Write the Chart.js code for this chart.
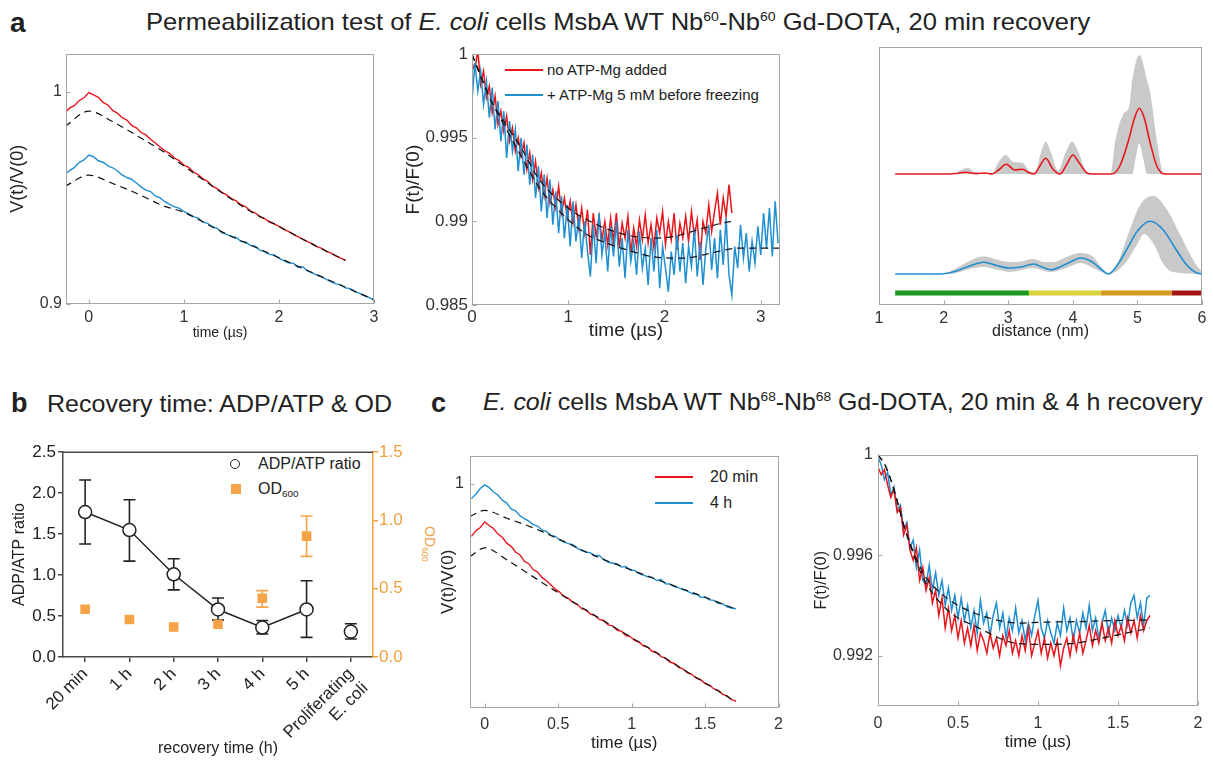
<!DOCTYPE html>
<html><head><meta charset="utf-8">
<script src="https://cdn.jsdelivr.net/npm/chart.js@4.4.1/dist/chart.umd.min.js"></script>
<style>
body{margin:0;background:#fff;}
#fig{position:relative;width:1213px;height:760px;overflow:hidden;font-family:"Liberation Sans",Arial,sans-serif;color:#222;}
.abs{position:absolute;white-space:nowrap;line-height:1;}
.sup{font-size:0.55em;vertical-align:0.7em;}
.sub{font-size:0.62em;vertical-align:-0.3em;}
canvas{position:absolute;}
.ln{position:absolute;height:0;}
</style></head>
<body><div id="fig">
<div class="abs" style="left:10px;top:9px;font-size:28px;font-weight:bold">a</div>
<div class="abs" style="left:146px;top:10px;font-size:24px;transform:scaleX(1.064);transform-origin:0 0">Permeabilization test of <i>E. coli</i> cells MsbA WT Nb<span class="sup">60</span>-Nb<span class="sup">60</span> Gd-DOTA, 20 min recovery</div>
<div class="abs" style="left:11px;top:390px;font-size:27px;font-weight:bold">b</div>
<div class="abs" style="left:47px;top:392px;font-size:24px;transform:scaleX(1.042);transform-origin:0 0">Recovery time: ADP/ATP &amp; OD</div>
<div class="abs" style="left:431px;top:390px;font-size:27px;font-weight:bold">c</div>
<div class="abs" style="left:483px;top:390px;font-size:24px;transform:scaleX(1.037);transform-origin:0 0"><i>E. coli</i> cells MsbA WT Nb<span class="sup">68</span>-Nb<span class="sup">68</span> Gd-DOTA, 20 min &amp; 4 h recovery</div>

<!-- legend a2 -->
<div class="ln" style="left:505px;top:69px;width:38px;border-top:2px solid #e8161c"></div>
<div class="abs" style="left:547px;top:62px;font-size:15px">no ATP-Mg added</div>
<div class="ln" style="left:505px;top:94px;width:38px;border-top:2px solid #1f8fd0"></div>
<div class="abs" style="left:547px;top:87px;font-size:15px">+ ATP-Mg 5 mM before freezing</div>

<!-- legend b -->
<div style="position:absolute;left:230px;top:459px;width:8px;height:8px;border:1.5px solid #222;border-radius:50%;background:#fff"></div>
<div class="abs" style="left:258px;top:456px;font-size:16px">ADP/ATP ratio</div>
<div style="position:absolute;left:231px;top:484px;width:10px;height:10px;background:#f5a347"></div>
<div class="abs" style="left:258px;top:481px;font-size:16px">OD<span class="sub">600</span></div>
<div class="abs" style="left:437px;top:526px;font-size:14px;color:#f0a040;transform:rotate(90deg);transform-origin:0 0">OD<span class="sub">600</span></div>

<!-- legend c1 -->
<div class="ln" style="left:655px;top:476px;width:38px;border-top:2px solid #e8161c"></div>
<div class="abs" style="left:710px;top:469px;font-size:16px">20 min</div>
<div class="ln" style="left:655px;top:502px;width:38px;border-top:2px solid #1f8fd0"></div>
<div class="abs" style="left:710px;top:495px;font-size:16px">4 h</div>
</div>
<script>
// ---------------- DATA ----------------
// panel a (left): V(t)/V(0), sampled from -0.25 us every 0.05 us
const a1Start = -0.25, a1Step = 0.05;
const a1Red = [0.9902,0.9924,0.9936,0.9959,0.9972,0.9996,0.9986,0.9974,0.9950,0.9938,
0.9912,0.9900,0.9878,0.9867,0.9842,0.9830,0.9808,0.9797,0.9776,0.9759,
0.9740,0.9722,0.9710,0.9688,0.9676,0.9655,0.9644,0.9622,0.9610,0.9590,
0.9578,0.9555,0.9544,0.9526,0.9514,0.9497,0.9486,0.9468,0.9458,0.9438,
0.9430,0.9412,0.9402,0.9386,0.9378,0.9366,0.9352,0.9342,0.9328,0.9318,
0.9306,0.9294,0.9284,0.9270,0.9262,0.9248,0.9240,0.9226,0.9216,0.9206];
const a1Blue = [0.9610,0.9630,0.9644,0.9668,0.9679,0.9702,0.9694,0.9675,0.9668,0.9651,
0.9642,0.9628,0.9608,0.9596,0.9588,0.9570,0.9552,0.9537,0.9530,0.9509,
0.9500,0.9482,0.9470,0.9458,0.9452,0.9436,0.9425,0.9412,0.9405,0.9386,
0.9380,0.9364,0.9356,0.9336,0.9328,0.9318,0.9314,0.9295,0.9292,0.9276,
0.9272,0.9254,0.9246,0.9234,0.9231,0.9216,0.9204,0.9194,0.9192,0.9172,
0.9176,0.9156,0.9147,0.9136,0.9128,0.9116,0.9104,0.9095,0.9090,0.9076,
0.9072,0.9058,0.9050,0.9040,0.9030,0.9018];
const a1RedFitT = [-0.25,0,0.25,0.5,0.75,1.0,1.33,1.7,2.0,2.35,2.7];
const a1RedFitV = [0.9837,0.9909,0.9860,0.9795,0.9728,0.9650,0.9546,0.9437,0.9366,0.9282,0.9206];
const a1BlueFitT = [-0.25,0,0.25,0.5,0.77,1.0,1.4,2.0,2.5,3.0];
const a1BlueFitV = [0.9555,0.9607,0.9568,0.9522,0.9465,0.9432,0.9340,0.9218,0.9118,0.9020];
const a1XTicks = [0,1,2,3], a1YTicks = [0.9,1];

// panel a (middle): F(t)/F(0), sampled from 0 every 0.03 us
const a2Start = 0, a2Step = 0.03;
const a2Red = [0.9995,0.9990,1.0003,0.9982,0.9990,0.9974,0.9981,0.9965,0.9975,0.9958,
0.9966,0.9954,0.9963,0.9948,0.9956,0.9942,0.9950,0.9939,0.9947,0.9931,
0.9941,0.9925,0.9936,0.9920,0.9929,0.9915,0.9926,0.9911,0.9919,0.9908,
0.9921,0.9905,0.9914,0.9902,0.9912,0.9899,0.9910,0.9896,0.9908,0.9893,
0.9907,0.9880,0.9905,0.9891,0.9903,0.9889,0.9900,0.9886,0.9902,0.9888,
0.9905,0.9884,0.9899,0.9890,0.9903,0.9881,0.9896,0.9885,0.9901,0.9889,
0.9904,0.9887,0.9898,0.9884,0.9902,0.9893,0.9906,0.9886,0.9900,0.9889,
0.9905,0.9883,0.9899,0.9890,0.9903,0.9888,0.9906,0.9891,0.9901,0.9877,
0.9900,0.9893,0.9910,0.9894,0.9906,0.9917,0.9898,0.9914,0.9903,0.9922,
0.9905];
const a2Blue = [0.9972,0.9995,0.9978,0.9990,0.9970,0.9984,0.9962,0.9980,0.9955,0.9972,
0.9948,0.9966,0.9938,0.9960,0.9942,0.9955,0.9930,0.9950,0.9928,0.9946,
0.9922,0.9940,0.9914,0.9933,0.9906,0.9928,0.9902,0.9925,0.9898,0.9918,
0.9893,0.9915,0.9890,0.9910,0.9885,0.9912,0.9888,0.9903,0.9878,0.9900,
0.9882,0.9867,0.9898,0.9875,0.9905,0.9880,0.9893,0.9870,0.9897,0.9879,
0.9900,0.9873,0.9890,0.9866,0.9895,0.9876,0.9888,0.9868,0.9894,0.9872,
0.9884,0.9862,0.9890,0.9870,0.9895,0.9860,0.9885,0.9872,0.9858,0.9882,
0.9868,0.9892,0.9870,0.9887,0.9863,0.9885,0.9873,0.9896,0.9867,0.9888,
0.9862,0.9884,0.9898,0.9871,0.9890,0.9866,0.9895,0.9874,0.9902,0.9868,
0.9856,0.9885,0.9872,0.9898,0.9878,0.9893,0.9870,0.9888,0.9875,0.9897,
0.9880,0.9905,0.9884,0.9908,0.9879,0.9912,0.9887];
const a2RedFitT = [0,0.1,0.2,0.33,0.5,0.7,1.0,1.3,1.6,1.9,2.1,2.35,2.6,2.7];
const a2RedFitV = [1.0,0.9986,0.9972,0.9960,0.9945,0.9925,0.9908,0.9898,0.9892,0.9890,0.9891,0.9895,0.9899,0.9900];
const a2BlueFitT = [0,0.1,0.2,0.33,0.5,0.7,1.0,1.2,1.4,1.61,1.87,2.2,2.48,2.77,3.09,3.2];
const a2BlueFitV = [1.0,0.9985,0.9972,0.9958,0.9940,0.9920,0.9901,0.9892,0.9887,0.9883,0.9879,0.9878,0.9881,0.9884,0.9884,0.9884];
const a2XTicks = [0,1,2,3], a2YTicks = [0.985,0.99,0.995,1];

// panel a (right): distance distributions (arbitrary units)
const a3RedOffset = 1.0, a3BlueOffset = 0, a3BarLevel = -0.19;
const a3RedX = [1.25,2.1,2.22,2.35,2.5,2.65,2.75,2.85,2.97,3.1,3.22,3.33,3.4,3.48,3.58,3.69,3.8,3.9,4.0,4.1,4.22,4.3,4.6,4.72,4.86,4.95,5.03,5.11,5.19,5.3,5.42,6.0];
const a3RedY = [0,0,0.008,0.017,0.004,0.01,0,0.04,0.097,0.04,0.047,0.01,0,0.07,0.157,0.05,0,0.09,0.19,0.11,0.01,0,0,0.07,0.33,0.55,0.657,0.55,0.33,0.08,0,0];
const a3RedUpX = [1.25,2.15,2.27,2.37,2.48,2.6,2.75,2.85,2.96,3.08,3.22,3.33,3.42,3.5,3.58,3.67,3.77,3.88,3.99,4.1,4.2,4.3,4.58,4.66,4.79,4.87,4.92,5.03,5.15,5.2,5.3,5.41,6.0];
const a3RedUpY = [0,0,0.04,0.063,0.02,0.01,0.01,0.12,0.19,0.12,0.113,0.03,0.02,0.2,0.323,0.2,0.03,0.2,0.323,0.2,0.03,0,0,0.34,0.607,0.673,0.94,1.19,0.94,0.807,0.34,0,0];
const a3RedLoX = [1.25,4.92,4.97,5.03,5.09,5.15,6.0];
const a3RedLoY = [0,0,0.15,0.307,0.15,0,0];
const a3BlueX = [1.25,1.95,2.2,2.4,2.62,2.82,3.02,3.2,3.4,3.52,3.66,3.9,4.12,4.3,4.45,4.55,4.7,4.85,5.0,5.2,5.4,5.58,5.75,5.9,6.0];
const a3BlueY = [0,0,0.03,0.08,0.117,0.085,0.06,0.07,0.10,0.07,0.043,0.1,0.16,0.12,0.04,0,0.1,0.263,0.43,0.527,0.44,0.263,0.1,0.015,0];
const a3BlueUpX = [1.25,2.0,2.2,2.4,2.62,2.85,3.02,3.2,3.38,3.55,3.7,3.9,4.1,4.3,4.45,4.55,4.7,4.88,5.05,5.25,5.45,5.68,5.89,6.0];
const a3BlueUpY = [0,0,0.06,0.13,0.177,0.14,0.12,0.125,0.15,0.12,0.12,0.17,0.21,0.18,0.06,0.0,0.12,0.44,0.7,0.78,0.65,0.37,0.11,0.02];
const a3BlueLoX = [1.25,2.1,2.4,2.62,2.85,3.02,3.38,3.66,3.9,4.12,4.35,4.55,4.8,5.0,5.1,5.25,5.4,5.55,6.0];
const a3BlueLoY = [0,0,0.05,0.07,0.04,0.02,0.06,0.02,0.06,0.11,0.05,0,0.1,0.3,0.4,0.3,0.1,0.02,0];
const a3BarEdges = [1.25,3.32,4.43,5.53,6.0];
const a3BarColors = ['#1f9a1f','#d6d43a','#d49a1f','#a31515'];
const a3XTicks = [1,2,3,4,5,6];

// panel b
const bCats = ['20 min','1 h','2 h','3 h','4 h','5 h',['Proliferating','E. coli']];
const bRatio = [1.77,1.55,1.01,0.58,0.36,0.58,0.31];
const bRatioLo = [1.38,1.17,0.82,0.45,0.28,0.24,0.22];
const bRatioHi = [2.16,1.92,1.20,0.72,0.445,0.93,0.405];
const bOD = [0.35,0.275,0.22,0.24,0.43,0.885,null];
const bODLo = [null,null,null,null,0.365,0.737,null];
const bODHi = [null,null,null,null,0.486,1.033,null];
const bYTicks = [0,0.5,1,1.5,2,2.5], bY1Ticks = [0,0.5,1,1.5];

// panel c (left): V(t)/V(0), sampled from -0.09 us every 0.03 us
const c1Start = -0.09, c1Step = 0.03;
const c1Blue = [0.9941,0.9958,0.9982,0.9996,0.9985,0.9967,0.9955,0.9934,0.9922,0.9898,
0.9890,0.9870,0.9858,0.9848,0.9834,0.9828,0.9811,0.9806,0.9790,0.9786,
0.9771,0.9762,0.9756,0.9752,0.9738,0.9728,0.9722,0.9718,0.9707,0.9708,
0.9690,0.9681,0.9676,0.9674,0.9660,0.9663,0.9648,0.9646,0.9633,0.9628,
0.9620,0.9618,0.9605,0.9609,0.9592,0.9591,0.9580,0.9576,0.9567,0.9562,
0.9552,0.9549,0.9538,0.9537,0.9526,0.9524,0.9512,0.9510,0.9498,0.9493,
0.9490];
const c1Red = [0.9786,0.9809,0.9822,0.9845,0.9830,0.9818,0.9795,0.9782,0.9758,0.9745,
0.9722,0.9710,0.9684,0.9674,0.9650,0.9640,0.9618,0.9604,0.9588,0.9570,
0.9558,0.9540,0.9532,0.9516,0.9508,0.9490,0.9484,0.9468,0.9462,0.9446,
0.9442,0.9424,0.9420,0.9402,0.9398,0.9380,0.9376,0.9360,0.9354,0.9338,
0.9332,0.9316,0.9310,0.9294,0.9288,0.9272,0.9266,0.9250,0.9244,0.9228,
0.9222,0.9206,0.9200,0.9184,0.9178,0.9162,0.9156,0.9140,0.9134,0.9118,
0.9112];
const c1RedFitT = [-0.1,0,0.15,0.29,0.45,0.6,0.75,1.0,1.25,1.5,1.71];
const c1RedFitV = [0.9703,0.9739,0.9690,0.9636,0.9574,0.9518,0.9462,0.9372,0.9280,0.9186,0.9110];
const c1BlueFitT = [-0.1,0,0.15,0.29,0.4,0.5,0.75,1.0,1.25,1.5,1.71];
const c1BlueFitV = [0.9867,0.9892,0.9860,0.9830,0.9803,0.9776,0.9706,0.9648,0.9592,0.9537,0.9488];
const c1XTicks = [0,0.5,1,1.5,2], c1YTicks = [1];

// panel c (right): F(t)/F(0), sampled from 0 every 0.02 us
const c2Start = 0, c2Step = 0.02;
const c2Blue = [0.9999,0.9996,0.9990,0.9993,0.9984,0.9987,0.9978,0.9980,0.9970,0.9973,
0.9963,0.9966,0.9955,0.9962,0.9950,0.9948,0.9956,0.9946,0.9953,0.9944,
0.9950,0.9940,0.9947,0.9938,0.9944,0.9935,0.9943,0.9934,0.9940,0.9931,
0.9938,0.9929,0.9942,0.9933,0.9937,0.9928,0.9936,0.9941,0.9931,0.9937,
0.9927,0.9935,0.9930,0.9939,0.9929,0.9934,0.9926,0.9933,0.9928,0.9936,
0.9942,0.9931,0.9927,0.9934,0.9929,0.9925,0.9933,0.9928,0.9939,0.9930,
0.9935,0.9926,0.9934,0.9929,0.9937,0.9931,0.9940,0.9930,0.9935,0.9927,
0.9933,0.9938,0.9929,0.9935,0.9930,0.9936,0.9931,0.9938,0.9932,0.9941,
0.9944,0.9935,0.9941,0.9932,0.9943,0.9944];
const c2Red = [0.9995,0.9992,0.9994,0.9988,0.9983,0.9986,0.9977,0.9979,0.9968,0.9972,
0.9962,0.9958,0.9963,0.9950,0.9955,0.9946,0.9951,0.9941,0.9946,0.9936,
0.9943,0.9931,0.9939,0.9930,0.9936,0.9927,0.9934,0.9925,0.9931,0.9924,
0.9932,0.9922,0.9929,0.9926,0.9921,0.9929,0.9923,0.9927,0.9920,0.9928,
0.9924,0.9930,0.9921,0.9926,0.9920,0.9928,0.9922,0.9931,0.9920,0.9925,
0.9930,0.9921,0.9927,0.9919,0.9925,0.9920,0.9926,0.9916,0.9923,0.9927,
0.9920,0.9928,0.9922,0.9929,0.9921,0.9926,0.9932,0.9924,0.9930,0.9925,
0.9933,0.9926,0.9931,0.9925,0.9934,0.9928,0.9932,0.9926,0.9935,0.9929,
0.9934,0.9927,0.9936,0.9930,0.9934,0.9936];
const c2RedFitT = [0,0.05,0.1,0.17,0.23,0.29,0.39,0.5,0.6,0.84,1.0,1.2,1.4,1.55,1.7];
const c2RedFitV = [1.0,0.9995,0.9986,0.9970,0.9959,0.9950,0.9941,0.9935,0.9932,0.99252,0.99245,0.99248,0.9927,0.9929,0.9931];
const c2BlueFitT = [0,0.05,0.1,0.17,0.23,0.29,0.39,0.5,0.7,0.88,1.0,1.2,1.5,1.7];
const c2BlueFitV = [1.0,0.9995,0.9986,0.9970,0.9960,0.9952,0.9945,0.9940,0.99349,0.9933,0.99333,0.99335,0.9934,0.99342];
const c2XTicks = [0,0.5,1,1.5,2], c2YTicks = [0.992,0.996,1];

// ---------------- DRAWING ----------------
const FF = '"Liberation Sans", Arial, sans-serif';
const RED = '#e8161c', BLUE = '#1f8fd0', ORANGE = '#f0a040', GREYBOX = '#a4a4a4';
Chart.defaults.font.family = FF;
const fig = document.getElementById('fig');

const sampled = (start, step, vals) => vals.map((v, i) => ({x: +(start + step * i).toFixed(4), y: v}));
const pairs = (xs, ys, off = 0) => xs.map((x, i) => ({x, y: ys[i] + off}));

function trace(data, color, w = 1.4) {
  return {data, borderColor: color, borderWidth: w, pointRadius: 0, fill: false, tension: 0};
}
function fit(data) {
  return {data, borderColor: '#111', borderWidth: 1.2, borderDash: [7, 5], pointRadius: 0, fill: false, cubicInterpolationMode: 'monotone'};
}
function mScale(min, max, ticks, size, pad, title, tSize, tPad, showTicks = true) {
  return {
    type: 'linear', min, max,
    grid: {display: false, drawTicks: false}, border: {display: false},
    afterBuildTicks: s => { s.ticks = ticks.map(v => ({value: v})); },
    ticks: {display: showTicks, font: {size, family: FF}, color: '#333', padding: pad,
            callback: v => String(v), maxRotation: 0, autoSkip: false},
    title: title ? {display: true, text: title, font: {size: tSize, family: FF}, color: '#222', padding: tPad} : {display: false}
  };
}
const boxPlugin = {
  id: 'boxp',
  afterDatasetsDraw(chart, args, opts) {
    if (!opts || !opts.color) return;
    const a = chart.chartArea, ctx = chart.ctx;
    ctx.save();
    ctx.strokeStyle = opts.color; ctx.lineWidth = 1;
    const l = Math.round(a.left) + 0.5, t = Math.round(a.top) + 0.5, r = Math.round(a.right) - 0.5, b = Math.round(a.bottom) - 0.5;
    ctx.strokeRect(l, t, r - l, b - t);
    ctx.beginPath();
    const xs = chart.scales.x, ys = chart.scales.y;
    xs.ticks.forEach(tk => { const px = Math.round(xs.getPixelForValue(tk.value)) + 0.5; ctx.moveTo(px, b); ctx.lineTo(px, b - 4); });
    if (opts.yTicks !== false) ys.ticks.forEach(tk => { const py = Math.round(ys.getPixelForValue(tk.value)) + 0.5; ctx.moveTo(l, py); ctx.lineTo(l + 4, py); });
    ctx.stroke();
    ctx.restore();
  }
};
const errPlugin = {
  id: 'errp',
  beforeDatasetsDraw(chart) {
    const ctx = chart.ctx;
    chart.data.datasets.forEach((ds, di) => {
      if (!ds.errLo) return;
      const meta = chart.getDatasetMeta(di);
      const ys = chart.scales[ds.yAxisID];
      ctx.save(); ctx.strokeStyle = ds.errColor; ctx.lineWidth = 1.6;
      meta.data.forEach((pt, i) => {
        if (ds.errLo[i] == null) return;
        const x = pt.x, y1 = ys.getPixelForValue(ds.errLo[i]), y2 = ys.getPixelForValue(ds.errHi[i]);
        ctx.beginPath();
        ctx.moveTo(x, y1); ctx.lineTo(x, y2);
        ctx.moveTo(x - 6, y1); ctx.lineTo(x + 6, y1);
        ctx.moveTo(x - 6, y2); ctx.lineTo(x + 6, y2);
        ctx.stroke();
      });
      ctx.restore();
    });
  },
  afterDatasetsDraw(chart, args, opts) {
    if (!opts || !opts.top) return;
    const a = chart.chartArea, ctx = chart.ctx;
    ctx.save(); ctx.strokeStyle = opts.top; ctx.lineWidth = 1.5;
    ctx.beginPath(); ctx.moveTo(a.left, a.top); ctx.lineTo(a.right, a.top); ctx.stroke();
    ctx.restore();
  }
};

function mk(box, area, cfg, rightAxis) {
  const [cx, cy, cw, ch] = box, [L, T, R, B] = area;
  const c = document.createElement('canvas');
  c.width = cw; c.height = ch;
  c.style.left = cx + 'px'; c.style.top = cy + 'px'; c.style.width = cw + 'px'; c.style.height = ch + 'px';
  fig.appendChild(c);
  const o = cfg.options;
  o.responsive = false; o.animation = false; o.devicePixelRatio = 1; o.maintainAspectRatio = false;
  o.layout = {padding: {left: 0, top: T - cy, right: rightAxis ? 0 : (cx + cw - R), bottom: 0}};
  o.scales.x.afterFit = s => { s.height = cy + ch - B; };
  o.scales.y.afterFit = s => { s.width = L - cx; };
  if (rightAxis) o.scales.y1.afterFit = s => { s.width = cx + cw - R; };
  o.plugins = Object.assign({legend: {display: false}, tooltip: {enabled: false}}, o.plugins || {});
  return new Chart(c, cfg);
}

// ---- a1 ----
mk([2, 40, 382, 305], [66, 48, 374, 304], {
  type: 'line',
  data: {datasets: [
    fit(pairs(a1RedFitT, a1RedFitV)),
    fit(pairs(a1BlueFitT, a1BlueFitV)),
    trace(sampled(a1Start, a1Step, a1Red), RED),
    trace(sampled(a1Start, a1Step, a1Blue), BLUE)
  ]},
  options: {
    scales: {
      x: mScale(-0.24, 3, a1XTicks, 16, 4, 'time (\u00b5s)', 14, {top: 0, bottom: 3.6}),
      y: mScale(0.9, 1.018, a1YTicks, 16, 4, 'V(t)/V(0)', 18, {top: 5.2, bottom: 0})
    },
    plugins: {boxp: {color: GREYBOX}}
  },
  plugins: [boxPlugin]
});

// ---- a2 ----
mk([398, 40, 392, 305], [472, 48, 780, 305], {
  type: 'line',
  data: {datasets: [
    fit(pairs(a2RedFitT, a2RedFitV)),
    fit(pairs(a2BlueFitT, a2BlueFitV)),
    trace(sampled(a2Start, a2Step, a2Blue), BLUE, 1.5),
    trace(sampled(a2Start, a2Step, a2Red), RED, 1.5)
  ]},
  options: {
    scales: {
      x: mScale(0, 3.2, a2XTicks, 17, 2, 'time (\u00b5s)', 19, {top: 0, bottom: 2.6}),
      y: mScale(0.985, 1.0, a2YTicks, 17, 4, 'F(t)/F(0)', 19, {top: 4, bottom: 0})
    },
    plugins: {boxp: {color: GREYBOX}}
  },
  plugins: [boxPlugin]
});

// ---- a3 ----
const band = (data, target) => ({data, borderWidth: 0, borderColor: 'rgba(0,0,0,0)', backgroundColor: '#c9c9c9',
  pointRadius: 0, fill: target === null ? false : target, cubicInterpolationMode: 'monotone'});
const curve = (data, color) => ({data, borderColor: color, borderWidth: 1.6, pointRadius: 0, fill: false, cubicInterpolationMode: 'monotone'});
const barSets = a3BarColors.map((col, i) => ({
  data: [{x: a3BarEdges[i], y: a3BarLevel}, {x: a3BarEdges[i + 1], y: a3BarLevel}],
  borderColor: col, borderWidth: 5, borderCapStyle: 'butt', pointRadius: 0, fill: false
}));
mk([860, 40, 350, 305], [879, 47, 1204, 305], {
  type: 'line',
  data: {datasets: [
    curve(pairs(a3RedX, a3RedY, a3RedOffset), RED),
    curve(pairs(a3BlueX, a3BlueY, a3BlueOffset), BLUE),
    band(pairs(a3RedUpX, a3RedUpY, a3RedOffset), 3),
    band(pairs(a3RedLoX, a3RedLoY, a3RedOffset), null),
    band(pairs(a3BlueUpX, a3BlueUpY, a3BlueOffset), 5),
    band(pairs(a3BlueLoX, a3BlueLoY, a3BlueOffset), null),
    ...barSets
  ]},
  options: {
    scales: {
      x: mScale(1, 6, a3XTicks, 16, 3.5, 'distance (nm)', 16, {top: 0, bottom: 3.7}),
      y: mScale(-0.31, 2.27, [], 16, 0, null, 0, 0, false)
    },
    plugins: {boxp: {color: GREYBOX, yTicks: false}}
  },
  plugins: [boxPlugin]
});

// ---- b ----
const axisGrey = '#4a4a4a';
mk([5, 440, 410, 320], [63, 451, 373, 657], {
  type: 'line',
  data: {labels: bCats, datasets: [
    {data: bRatio, yAxisID: 'y', borderColor: '#222', borderWidth: 1.5, pointRadius: 6.5, pointStyle: 'circle',
     pointBackgroundColor: '#fff', pointBorderColor: '#222', pointBorderWidth: 1.5, tension: 0,
     segment: {borderColor: ctx => ctx.p1DataIndex === 6 ? 'rgba(0,0,0,0)' : '#222'},
     errLo: bRatioLo, errHi: bRatioHi, errColor: '#222'},
    {data: bOD, yAxisID: 'y1', showLine: false, pointStyle: 'rect', pointRadius: 6.8, borderColor: '#f5a347',
     pointBackgroundColor: '#f5a347', pointBorderWidth: 0,
     errLo: bODLo, errHi: bODHi, errColor: '#f5a347'}
  ]},
  options: {
    scales: {
      x: {type: 'category', offset: true,
          grid: {display: true, drawOnChartArea: false, drawTicks: true, tickLength: 5, color: axisGrey, lineWidth: 1.5},
          border: {display: true, color: axisGrey, width: 1.5},
          ticks: {font: {size: 17, family: FF}, color: '#222', minRotation: 45, maxRotation: 45, padding: 2, autoSkip: false},
          title: {display: true, text: 'recovery time (h)', font: {size: 16, family: FF}, color: '#222', padding: {top: 0, bottom: 1.4}}},
      y: {type: 'linear', position: 'left', min: 0, max: 2.5,
          afterBuildTicks: s => { s.ticks = bYTicks.map(v => ({value: v})); },
          grid: {display: true, drawOnChartArea: false, drawTicks: true, tickLength: 5, color: axisGrey, lineWidth: 1.5},
          border: {display: true, color: axisGrey, width: 1.5},
          ticks: {font: {size: 17, family: FF}, color: '#222', padding: 2, callback: v => v.toFixed(1)},
          title: {display: true, text: 'ADP/ATP ratio', font: {size: 16, family: FF}, color: '#222', padding: {top: 5.4, bottom: 0}}},
      y1: {type: 'linear', position: 'right', min: 0, max: 1.5,
          afterBuildTicks: s => { s.ticks = bY1Ticks.map(v => ({value: v})); },
          grid: {display: true, drawOnChartArea: false, drawTicks: true, tickLength: 5, color: ORANGE, lineWidth: 1.5},
          border: {display: true, color: ORANGE, width: 1.5},
          ticks: {font: {size: 17, family: FF}, color: ORANGE, padding: 1, callback: v => v.toFixed(1)},
          title: {display: false}}
    },
    plugins: {errp: {top: axisGrey}}
  },
  plugins: [errPlugin]
}, true);

// ---- c1 ----
mk([425, 440, 365, 320], [470, 450, 779, 708], {
  type: 'line',
  data: {datasets: [
    fit(pairs(c1RedFitT, c1RedFitV)),
    fit(pairs(c1BlueFitT, c1BlueFitV)),
    trace(sampled(c1Start, c1Step, c1Red), RED),
    trace(sampled(c1Start, c1Step, c1Blue), BLUE)
  ]},
  options: {
    scales: {
      x: mScale(-0.1, 2.0, c1XTicks, 16, 7, 'time (\u00b5s)', 17, {top: 0, bottom: 6.8}),
      y: mScale(0.9084, 1.0116, c1YTicks, 16, 6, 'V(t)/V(0)', 17, {top: 12.8, bottom: 0})
    },
    plugins: {boxp: {color: GREYBOX}}
  },
  plugins: [boxPlugin]
});

// ---- c2 ----
mk([810, 440, 400, 320], [878, 450, 1203, 706], {
  type: 'line',
  data: {datasets: [
    fit(pairs(c2RedFitT, c2RedFitV)),
    fit(pairs(c2BlueFitT, c2BlueFitV)),
    trace(sampled(c2Start, c2Step, c2Red), RED, 1.5),
    trace(sampled(c2Start, c2Step, c2Blue), BLUE, 1.5)
  ]},
  options: {
    scales: {
      x: mScale(0, 2, c2XTicks, 16, 7.5, 'time (\u00b5s)', 17, {top: 0, bottom: 7.8}),
      y: mScale(0.990, 1.0, c2YTicks, 16, 5, 'F(t)/F(0)', 16, {top: 2.4, bottom: 0})
    },
    plugins: {boxp: {color: GREYBOX}}
  },
  plugins: [boxPlugin]
});
</script>
</body></html>
